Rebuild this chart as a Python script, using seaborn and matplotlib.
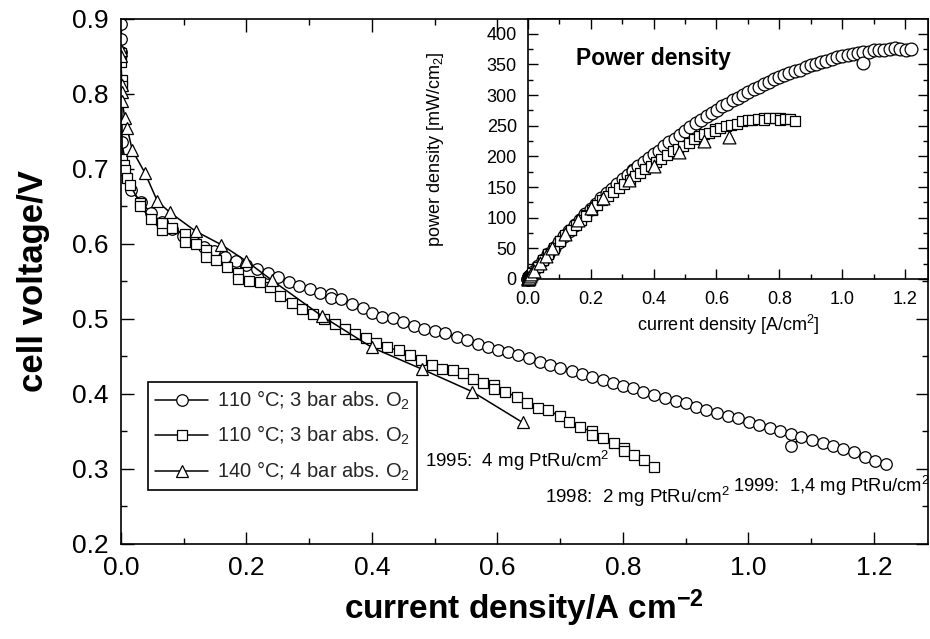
import numpy as np
import matplotlib
matplotlib.use("Agg")
import matplotlib.pyplot as plt
import seaborn as sns
from matplotlib import font_manager
from matplotlib.ticker import MultipleLocator, FormatStrFormatter

# ---------------- data ----------------
# 1999: 1,4 mg PtRu/cm2  (circles)
j_1999 = [0.000, 0.000, 0.000, 0.001, 0.016, 0.032, 0.048, 0.065, 0.082, 0.099,
          0.116, 0.132, 0.149, 0.166, 0.183, 0.200, 0.217, 0.234, 0.251, 0.268,
          0.284, 0.301, 0.317, 0.334, 0.334, 0.351, 0.368, 0.385, 0.400, 0.416,
          0.434, 0.450, 0.467, 0.483, 0.500, 0.516, 0.535, 0.551, 0.569, 0.585,
          0.601, 0.617, 0.633, 0.651, 0.667, 0.683, 0.700, 0.718, 0.734, 0.750,
          0.768, 0.784, 0.800, 0.816, 0.832, 0.849, 0.867, 0.884, 0.900, 0.917,
          0.933, 0.950, 0.967, 0.984, 1.001, 1.017, 1.034, 1.051, 1.067, 1.067,
          1.084, 1.101, 1.118, 1.134, 1.151, 1.168, 1.185, 1.202, 1.219]
v_1999 = [0.893, 0.873, 0.856, 0.736, 0.672, 0.656, 0.641, 0.629, 0.620, 0.610,
          0.603, 0.596, 0.590, 0.583, 0.577, 0.572, 0.566, 0.561, 0.556, 0.549,
          0.544, 0.540, 0.535, 0.533, 0.528, 0.526, 0.520, 0.514, 0.508, 0.503,
          0.501, 0.496, 0.490, 0.486, 0.484, 0.481, 0.476, 0.472, 0.467, 0.462,
          0.459, 0.456, 0.452, 0.448, 0.443, 0.439, 0.435, 0.431, 0.426, 0.423,
          0.419, 0.415, 0.411, 0.408, 0.403, 0.399, 0.394, 0.391, 0.388, 0.383,
          0.379, 0.375, 0.371, 0.368, 0.363, 0.359, 0.355, 0.351, 0.347, 0.330,
          0.342, 0.339, 0.334, 0.330, 0.326, 0.322, 0.316, 0.311, 0.307]

# 1998: 2 mg PtRu/cm2  (squares)
j_1998 = [0.000, 0.000, 0.001, 0.001, 0.002, 0.004, 0.006, 0.010, 0.014, 0.031,
          0.031, 0.048, 0.065, 0.065, 0.082, 0.102, 0.102, 0.119, 0.136, 0.136,
          0.152, 0.169, 0.186, 0.186, 0.204, 0.221, 0.237, 0.254, 0.272, 0.289,
          0.306, 0.324, 0.341, 0.357, 0.373, 0.390, 0.407, 0.424, 0.443, 0.461,
          0.478, 0.495, 0.511, 0.529, 0.545, 0.561, 0.577, 0.594, 0.594, 0.612,
          0.631, 0.647, 0.665, 0.681, 0.699, 0.714, 0.731, 0.750, 0.750, 0.768,
          0.785, 0.802, 0.802, 0.818, 0.834, 0.850]
v_1998 = [0.854, 0.843, 0.819, 0.811, 0.713, 0.705, 0.699, 0.688, 0.679, 0.654,
          0.650, 0.633, 0.618, 0.628, 0.621, 0.613, 0.603, 0.600, 0.592, 0.582,
          0.578, 0.569, 0.561, 0.553, 0.550, 0.549, 0.542, 0.531, 0.521, 0.513,
          0.507, 0.500, 0.493, 0.486, 0.480, 0.474, 0.468, 0.462, 0.458, 0.452,
          0.445, 0.439, 0.433, 0.432, 0.428, 0.420, 0.414, 0.412, 0.407, 0.403,
          0.396, 0.388, 0.381, 0.379, 0.370, 0.362, 0.356, 0.350, 0.345, 0.341,
          0.335, 0.328, 0.324, 0.319, 0.312, 0.303]

# 1995: 4 mg PtRu/cm2  (triangles)
j_1995 = [0.000, 0.000, 0.001, 0.001, 0.002, 0.006, 0.010, 0.018, 0.038, 0.058,
          0.078, 0.119, 0.160, 0.200, 0.240, 0.320, 0.400, 0.480, 0.560, 0.640]
v_1995 = [0.859, 0.851, 0.812, 0.803, 0.790, 0.768, 0.754, 0.725, 0.695, 0.657,
          0.642, 0.617, 0.599, 0.577, 0.552, 0.504, 0.462, 0.433, 0.403, 0.362]

legend_labels = ["110 °C; 3 bar abs. O$_2$",
                 "110 °C; 3 bar abs. O$_2$",
                 "140 °C; 4 bar abs. O$_2$"]
note_labels = ["1995:  4 mg PtRu/cm$^2$",
               "1998:  2 mg PtRu/cm$^2$",
               "1999:  1,4 mg PtRu/cm$^2$"]

# ---------------- style ----------------
sns.set_theme(style="ticks")
names = {f.name for f in font_manager.fontManager.ttflist}
base = "Liberation Sans" if "Liberation Sans" in names else "DejaVu Sans"
narrow = "Liberation Sans Narrow" if "Liberation Sans Narrow" in names else base
plt.rcParams["font.family"] = [base, "DejaVu Sans"]
plt.rcParams["mathtext.fontset"] = "custom"
plt.rcParams["mathtext.rm"] = base
plt.rcParams["mathtext.bf"] = base + ":bold"
plt.rcParams["mathtext.default"] = "regular"

fig = plt.figure(figsize=(9.3, 6.39), dpi=100)
fig.patch.set_facecolor("white")
ax = fig.add_axes([0.1301, 0.1487, 0.8677, 0.8216])
ax.set_facecolor("white")

common = dict(estimator=None, sort=False, color="black", linewidth=1.1,
              markerfacecolor="white", markeredgecolor="black",
              markeredgewidth=0.9, ax=ax)
sns.lineplot(x=j_1999, y=v_1999, marker="o", markersize=8.3, label=legend_labels[0], **common)
sns.lineplot(x=j_1998, y=v_1998, marker="s", markersize=7, label=legend_labels[1], **common)
sns.lineplot(x=j_1995, y=v_1995, marker="^", markersize=8.5, label=legend_labels[2], **common)

ax.set_xlim(0, 1.286)
ax.set_ylim(0.2, 0.9)
ax.xaxis.set_major_locator(MultipleLocator(0.2))
ax.xaxis.set_minor_locator(MultipleLocator(0.1))
ax.yaxis.set_major_locator(MultipleLocator(0.1))
ax.yaxis.set_minor_locator(MultipleLocator(0.05))
ax.xaxis.set_major_formatter(FormatStrFormatter("%.1f"))
ax.yaxis.set_major_formatter(FormatStrFormatter("%.1f"))
ax.tick_params(which="both", direction="in", top=True, right=True,
               color="black", labelcolor="black")
ax.tick_params(which="major", length=9, width=1.0, labelsize=19, pad=9)
ax.tick_params(which="minor", length=4.5, width=1.0)
for lbl in ax.get_xticklabels():
    lbl.set_fontfamily([narrow, "DejaVu Sans"])
for s in ax.spines.values():
    s.set_color("black")
    s.set_linewidth(1.2)

ax.set_ylabel("cell voltage/V", fontsize=25, fontweight="bold", color="black")
ax.yaxis.set_label_coords(-0.088, 0.5)
ax.set_xlabel("current density/A cm$^{\\mathbf{-2}}$", fontsize=24,
              fontweight="bold", color="black", family=[narrow, "DejaVu Sans"])
ax.xaxis.set_label_coords(0.5, -0.082)

leg = ax.legend(loc="upper left", bbox_to_anchor=(0.034, 0.309), fontsize=14.5,
                frameon=True, fancybox=False, edgecolor="black", framealpha=1,
                handlelength=2.6, handletextpad=0.45, borderaxespad=0,
                labelspacing=0.6, borderpad=0.35)
leg.get_frame().set_linewidth(1.2)

ax.text(0.484, 0.303, note_labels[0], fontsize=13.5, color="black", va="baseline")
ax.text(0.676, 0.255, note_labels[1], fontsize=13.5, color="black", va="baseline")
ax.text(0.975, 0.269, note_labels[2], fontsize=13.2, color="black", va="baseline")

# ---------------- inset ----------------
axin = fig.add_axes([0.5677, 0.5634, 0.4301, 0.4069])
axin.set_facecolor("white")
p_1999 = np.array(j_1999) * np.array(v_1999) * 1000
p_1998 = np.array(j_1998) * np.array(v_1998) * 1000
p_1995 = np.array(j_1995) * np.array(v_1995) * 1000
sc = dict(ax=axin, color="white", edgecolor="black", linewidth=0.9, clip_on=False, zorder=3)
sns.scatterplot(x=j_1999, y=p_1999, marker="o", s=85, **sc)
sns.scatterplot(x=j_1998, y=p_1998, marker="s", s=60, **sc)
sns.scatterplot(x=j_1995, y=p_1995, marker="^", s=85, **sc)
axin.set_xlim(0, 1.273)
axin.set_ylim(0, 424)
axin.xaxis.set_major_locator(MultipleLocator(0.2))
axin.xaxis.set_minor_locator(MultipleLocator(0.1))
axin.yaxis.set_major_locator(MultipleLocator(50))
axin.yaxis.set_minor_locator(MultipleLocator(25))
axin.xaxis.set_major_formatter(FormatStrFormatter("%.1f"))
axin.tick_params(which="both", direction="in", top=True, right=True,
                 color="black", labelcolor="black")
axin.tick_params(which="major", length=7, width=1.0, labelsize=13)
axin.tick_params(axis="x", which="major", pad=9)
axin.tick_params(axis="y", which="major", pad=8)
axin.tick_params(which="minor", length=3.5, width=1.0)
for s in axin.spines.values():
    s.set_color("black")
    s.set_linewidth(1.2)
axin.set_xlabel("current density [A/cm$^2$]", fontsize=13, color="black", labelpad=3)
axin.set_ylabel("power density [mW/cm$_2$]", fontsize=13, color="black")
axin.yaxis.set_label_coords(-0.205, 0.5)
axin.text(0.153, 359, "Power density", fontsize=16.5, fontweight="bold",
          color="black", va="center")

fig.savefig("out.png", dpi=100, facecolor="white")
